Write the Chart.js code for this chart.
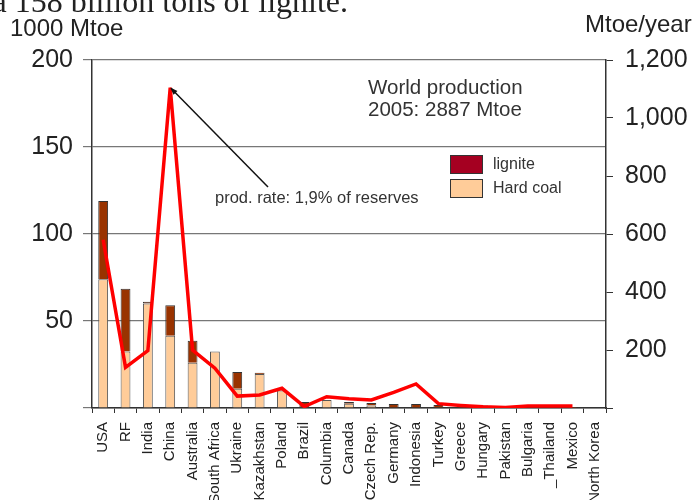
<!DOCTYPE html>
<html>
<head>
<meta charset="utf-8">
<script src="https://cdn.jsdelivr.net/npm/chart.js@4"></script>
<style>
  html, body { margin: 0; padding: 0; background: #fff; }
  #wrap { width: 697px; height: 500px; }
</style>
</head>
<body>
<div id="wrap"><canvas id="coal" width="697" height="500"></canvas></div>
<script>
// reserves, 1000 Mtoe (left axis)
const countries = ['USA', 'RF', 'India', 'China', 'Australia', 'South Africa', 'Ukraine', 'Kazakhstan',
    'Poland', 'Brazil', 'Columbia', 'Canada', 'Czech Rep.', 'Germany', 'Indonesia', 'Turkey', 'Greece',
    'Hungary', 'Pakistan', 'Bulgaria', '_Thailand', 'Mexico', 'North Korea'];
const hardCoal = [74, 32.5, 60, 41.5, 26, 32.5, 11, 19.5, 10, 0.5, 4.6, 2.4, 1.4, 0.3, 0.3, 0, 0, 0.2, 0, 0, 0, 0.2, 0];
const lignite  = [45, 36, 1, 17.5, 12.7, 0, 9.7, 0.8, 0.4, 2.9, 0, 1, 1.5, 2, 2, 1.7, 0.6, 1.3, 0.2, 0.4, 0.4, 0.4, 0];
// production, Mtoe/year (right axis)
const production = [580, 140, 198, 1105, 200, 137, 41, 45, 68, 5, 39, 32, 28, 54, 83, 15, 9, 4, 2, 7, 7, 7, null];

const leftTicks = [0, 50, 100, 150, 200];
const rightTicks = [0, 200, 400, 600, 800, 1000, 1200];

const FONT = '"Liberation Sans", Arial, sans-serif';

const extras = {
    id: 'extras',
    afterDraw(chart) {
        const c = chart.ctx;
        c.save();
        c.fillStyle = '#222';
        // cut caption from the slide above
        c.font = '32px "Liberation Serif", serif';
        c.textAlign = 'right';
        c.textBaseline = 'alphabetic';
        c.fillText('a 158 billion tons of lignite.', 348, 12);

        c.textAlign = 'left';
        c.textBaseline = 'middle';
        c.font = '24px ' + FONT;
        c.fillText('1000 Mtoe', 10, 29);
        c.fillText('Mtoe/year', 585, 25);

        c.font = '20.5px ' + FONT;
        c.fillStyle = '#333';
        c.fillText('World production', 368, 88);
        c.fillText('2005: 2887 Mtoe', 368, 110);

        c.font = '16.5px ' + FONT;
        c.fillText('prod. rate: 1,9% of reserves', 215, 198);

        // arrow to the China peak
        const x = chart.scales.x, y1 = chart.scales.y1;
        const px = x.getPixelForValue(3), py = y1.getPixelForValue(production[3]);
        const sx = 268, sy = 187;
        c.strokeStyle = '#111';
        c.lineWidth = 1.5;
        c.beginPath();
        c.moveTo(sx, sy);
        c.lineTo(px + 1, py + 1);
        c.stroke();
        const ang = Math.atan2(py - sy, px - sx);
        c.fillStyle = '#111';
        c.beginPath();
        c.moveTo(px, py);
        c.lineTo(px - 8 * Math.cos(ang - 0.35), py - 8 * Math.sin(ang - 0.35));
        c.lineTo(px - 8 * Math.cos(ang + 0.35), py - 8 * Math.sin(ang + 0.35));
        c.closePath();
        c.fill();

        // legend
        const items = [
            { label: chart.data.datasets[1].label, fill: '#A50021' },
            { label: chart.data.datasets[0].label, fill: '#FFCC99' }
        ];
        c.font = '16px ' + FONT;
        items.forEach((it, i) => {
            const ty = 155 + i * 24;
            c.fillStyle = it.fill;
            c.strokeStyle = '#333';
            c.lineWidth = 1;
            c.fillRect(450.5, ty + 0.5, 32, 18);
            c.strokeRect(450.5, ty + 0.5, 32, 18);
            c.fillStyle = '#333';
            c.fillText(it.label, 493, ty + 10);
        });
        c.restore();
    }
};

new Chart(document.getElementById('coal'), {
    type: 'bar',
    data: {
        labels: countries,
        datasets: [
            {
                label: 'Hard coal', data: hardCoal, yAxisID: 'y', stack: 'r',
                backgroundColor: '#FFCC99', borderColor: '#555', borderWidth: 1,
                barPercentage: 0.44, categoryPercentage: 1, order: 2
            },
            {
                label: 'lignite', data: lignite, yAxisID: 'y', stack: 'r',
                backgroundColor: '#993300', borderColor: '#333', borderWidth: 1,
                barPercentage: 0.44, categoryPercentage: 1, order: 2
            },
            {
                type: 'line', label: 'Production', data: production, yAxisID: 'y1',
                borderColor: '#FF0000', borderWidth: 3.5, pointRadius: 0, tension: 0,
                fill: false, order: 1
            }
        ]
    },
    options: {
        responsive: false,
        animation: false,
        devicePixelRatio: 1,
        layout: { padding: { top: 60, left: 0, right: 0, bottom: 0 } },
        plugins: { legend: { display: false }, tooltip: { enabled: false } },
        scales: {
            x: {
                stacked: true,
                afterFit(s) { s.height = 92; },
                grid: { display: true, drawOnChartArea: false, drawTicks: true, tickLength: 5, color: '#333', offset: true },
                border: { color: '#333', width: 1.5 },
                ticks: {
                    autoSkip: false, maxRotation: 90, minRotation: 90, padding: 9,
                    color: '#222', font: { family: FONT, size: 15 }
                }
            },
            y: {
                position: 'left', stacked: true, min: 0, max: 200,
                afterFit(s) { s.width = 92; },
                afterBuildTicks(s) { s.ticks = leftTicks.map(v => ({ value: v })); },
                grid: { color: '#777', lineWidth: 1.2, tickLength: 9, drawTicks: true },
                border: { color: '#333', width: 1.5 },
                ticks: {
                    padding: 10, color: '#222', font: { family: FONT, size: 25 },
                    callback: v => (v === 0 ? '' : v)
                }
            },
            y1: {
                position: 'right', min: 0, max: 1200,
                afterFit(s) { s.width = 91; },
                afterBuildTicks(s) { s.ticks = rightTicks.map(v => ({ value: v })); },
                grid: { drawOnChartArea: false, color: '#333', tickLength: 7 },
                border: { color: '#333', width: 1.5 },
                ticks: {
                    padding: 12, color: '#222', font: { family: FONT, size: 25 },
                    callback: v => (v === 0 ? '' : v.toLocaleString('en-US'))
                }
            }
        }
    },
    plugins: [extras]
});
</script>
</body>
</html>
